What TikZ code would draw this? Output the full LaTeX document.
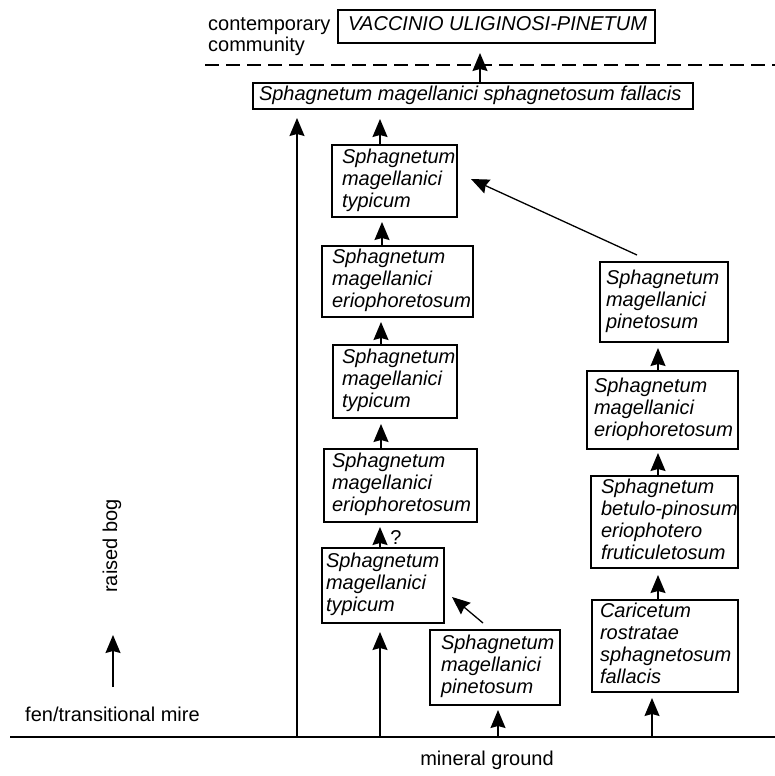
\documentclass[tikz,border=0pt]{standalone}
\usepackage{fontspec}
\setmainfont{Liberation Sans}
\usetikzlibrary{arrows.meta}
\newcommand\bt[3]{\makebox[#2pt][l]{\hspace*{#1pt}\begin{tabular}{@{}l@{}}#3\end{tabular}}}
\begin{document}
\begin{tikzpicture}[x=1pt,y=-1pt,
  bx/.style={draw, line width=1.2pt, inner sep=0pt, font=\fontsize{20}{22}\selectfont\itshape},
  lbl/.style={font=\fontsize{20}{21}\selectfont, inner sep=0pt},
  arr/.style={line width=1.3pt, -{Stealth[length=18pt,width=15pt,inset=2pt]}}]
\useasboundingbox (0,0) rectangle (775,776);
% boxes
\node[bx, minimum height=33pt] (VAC) at (496.5,26.5) {\bt{10}{317}{VACCINIO ULIGINOSI-PINETUM}};
\node[bx, minimum height=26pt] (B1) at (473,96) {\bt{6}{440}{Sphagnetum magellanici sphagnetosum fallacis}};
\node[bx, minimum height=72pt] (T1) at (394.5,181) {\bt{10}{125}{Sphagnetum\\magellanici\\typicum}};
\node[bx, minimum height=71pt] (E1) at (397.5,281.5) {\bt{10}{151}{Sphagnetum\\magellanici\\eriophoretosum}};
\node[bx, minimum height=73pt] (T2) at (395,381.5) {\bt{9}{124}{Sphagnetum\\magellanici\\typicum}};
\node[bx, minimum height=73pt] (E2) at (400.5,485.5) {\bt{8}{153}{Sphagnetum\\magellanici\\eriophoretosum}};
\node[bx, minimum height=75pt] (T3) at (383,585.5) {\bt{4}{122}{Sphagnetum\\magellanici\\typicum}};
\node[bx, minimum height=75pt] (P1) at (495,667.5) {\bt{11}{130}{Sphagnetum\\magellanici\\pinetosum}};
\node[bx, minimum height=80pt] (PR) at (664,302) {\bt{6}{128}{Sphagnetum\\magellanici\\pinetosum}};
\node[bx, minimum height=78pt] (ER) at (662.5,410) {\bt{7}{151}{Sphagnetum\\magellanici\\eriophoretosum}};
\node[bx, minimum height=92pt] (BR) at (664.5,522) {\bt{10}{147}{Sphagnetum\\betulo-pinosum\\eriophotero\\fruticuletosum}};
\node[bx, minimum height=92pt] (CR) at (665,646) {\bt{8}{146}{Caricetum\\rostratae\\sphagnetosum\\fallacis}};
% texts
\node[lbl, anchor=west, align=left] (cc) at (208,37) {contemporary\\community};
\node[lbl] (mg) at (487,760) {mineral ground};
\node[lbl, anchor=west] (fen) at (25,714) {fen/transitional mire};
\node[lbl, rotate=90] (rb) at (112,546) {raised bog};
% lines
\coordinate (g1) at (10,737);
\coordinate (g2) at (775,737);
\draw[line width=2.2pt] (g1) -- (g2);
\coordinate (d1) at (205,65);
\coordinate (d2) at (775,65);
\draw[line width=2pt, dash pattern=on 14pt off 7pt] (d1) -- (d2);
% arrows
\coordinate (vt) at (480,53);
\draw[arr] (B1.north -| vt) -- (vt);
\coordinate (lb) at (297,737);
\coordinate (lt) at (297,118);
\draw[arr] (lb) -- (lt);
\coordinate (t1t) at (380,119);
\draw[arr] (T1.north -| t1t) -- (t1t);
\coordinate (e1t) at (382,222);
\draw[arr] (E1.north -| e1t) -- (e1t);
\coordinate (t2t) at (381,322);
\draw[arr] (T2.north -| t2t) -- (t2t);
\coordinate (e2t) at (381,424);
\draw[arr] (E2.north -| e2t) -- (e2t);
\coordinate (t3t) at (380,527);
\draw[arr] (T3.north -| t3t) -- (t3t);
\node[lbl] (q) at (396,538) {?};
\coordinate (gt3) at (380,632);
\draw[arr] (g1 -| gt3) -- (gt3);
\coordinate (p1s) at (483,623);
\coordinate (p1t) at (452,597);
\draw[arr] (p1s) -- (p1t);
\coordinate (gp1) at (498,710);
\draw[arr] (g1 -| gp1) -- (gp1);
\coordinate (gcr) at (652,698);
\draw[arr] (g1 -| gcr) -- (gcr);
\coordinate (brt) at (658,575);
\draw[arr] (CR.north -| brt) -- (brt);
\coordinate (ert) at (658,453);
\draw[arr] (BR.north -| ert) -- (ert);
\coordinate (prt) at (658,348);
\draw[arr] (ER.north -| prt) -- (prt);
\coordinate (prs) at (637,255);
\coordinate (t1d) at (471,179);
\draw[arr] (prs) -- (t1d);
\coordinate (la) at (113,687);
\coordinate (lat) at (113,635);
\draw[arr] (la) -- (lat);
\end{tikzpicture}
\end{document}
